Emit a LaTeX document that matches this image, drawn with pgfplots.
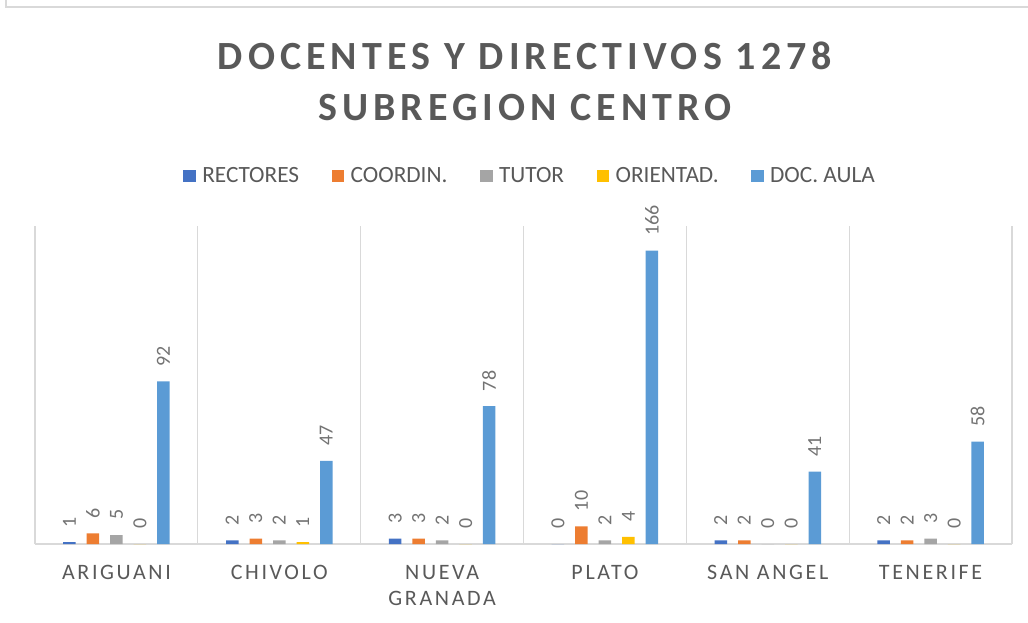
\documentclass[border=0pt]{standalone}
\usepackage{fontspec}
\setmainfont{Carlito}
\newfontfamily\titlefont[LetterSpace=12.5]{Carlito}
\newfontfamily\catfont[LetterSpace=12]{Carlito}
\usepackage{pgfplots}
\usepackage{pgfplotstable}
\pgfplotsset{compat=1.18}
\definecolor{cR}{HTML}{4472C4}
\definecolor{cC}{HTML}{ED7D31}
\definecolor{cT}{HTML}{A5A5A5}
\definecolor{cO}{HTML}{FFC000}
\definecolor{cD}{HTML}{5B9BD5}
\definecolor{txt}{HTML}{595959}
\definecolor{lbl}{HTML}{737373}
\definecolor{grd}{HTML}{D9D9D9}
\pgfplotstableread{
x r c t o d
0 1 6 5 0 92
1 2 3 2 1 47
2 3 3 2 0 78
3 0 10 2 4 166
4 2 2 0 0 41
5 2 2 3 0 58
}\data
\begin{document}
\begin{tikzpicture}[x=1pt,y=1pt]
\useasboundingbox (0,0) rectangle (1028,622);
\draw[grd,line width=1.5pt] (6,622) -- (6,615) -- (1028,615);
\node[anchor=north,inner sep=0pt,align=center,text=txt,
  font=\titlefont\bfseries\fontsize{40}{51.6}\selectfont] at (525,580.8)
  {DOCENTES Y DIRECTIVOS 1278\\SUBREGION CENTRO};
\begin{axis}[
  at={(35pt,78pt)}, anchor=south west,
  scale only axis, width=977pt, height=318pt,
  ybar=11pt, bar width=12.5pt,
  legend image code/.code={\fill[#1] (0pt,-6.25pt) rectangle (12.5pt,6.25pt);},
  xmin=-0.5, xmax=5.5, ymin=0, ymax=180,
  axis line style={draw=none},
  xtick={0,1,2,3,4,5},
  xticklabels={ARIGUANI,CHIVOLO,{NUEVA\\GRANADA},PLATO,SAN ANGEL,TENERIFE},
  xticklabel style={align=center,text=txt,font=\catfont\fontsize{22}{26}\selectfont,yshift=-18pt},
  ytick=\empty,
  extra x ticks={-0.5,0.5,1.5,2.5,3.5,4.5,5.5},
  extra x tick labels={},
  extra x tick style={grid=major},
  extra y ticks={0},
  extra y tick labels={},
  extra y tick style={grid=major},
  major grid style={draw=grd,line width=1.3pt},
  major tick length=0pt,
  nodes near coords,
  /pgf/number format/assume math mode=true,
  every node near coord/.append style={rotate=90,anchor=west,text=lbl,
    font=\fontsize{20}{24}\selectfont,inner xsep=15pt,inner ysep=0pt},
  legend columns=5,
  legend style={at={(0.509,1.157)},anchor=center,draw=none,fill=none,
    font=\fontsize{23.3}{28}\selectfont,text=txt,
    nodes={inner xsep=6.5pt,inner ysep=0pt},
    /tikz/every even column/.append style={column sep=26pt}},
]
\addplot[fill=cR,draw=none] table[x=x,y=r]{\data};
\addlegendentry{RECTORES}
\addplot[fill=cC,draw=none] table[x=x,y=c]{\data};
\addlegendentry{COORDIN.}
\addplot[fill=cT,draw=none] table[x=x,y=t]{\data};
\addlegendentry{TUTOR}
\addplot[fill=cO,draw=none] table[x=x,y=o]{\data};
\addlegendentry{ORIENTAD.}
\addplot[fill=cD,draw=none] table[x=x,y=d]{\data};
\addlegendentry{DOC. AULA}
\end{axis}
\end{tikzpicture}
\end{document}
